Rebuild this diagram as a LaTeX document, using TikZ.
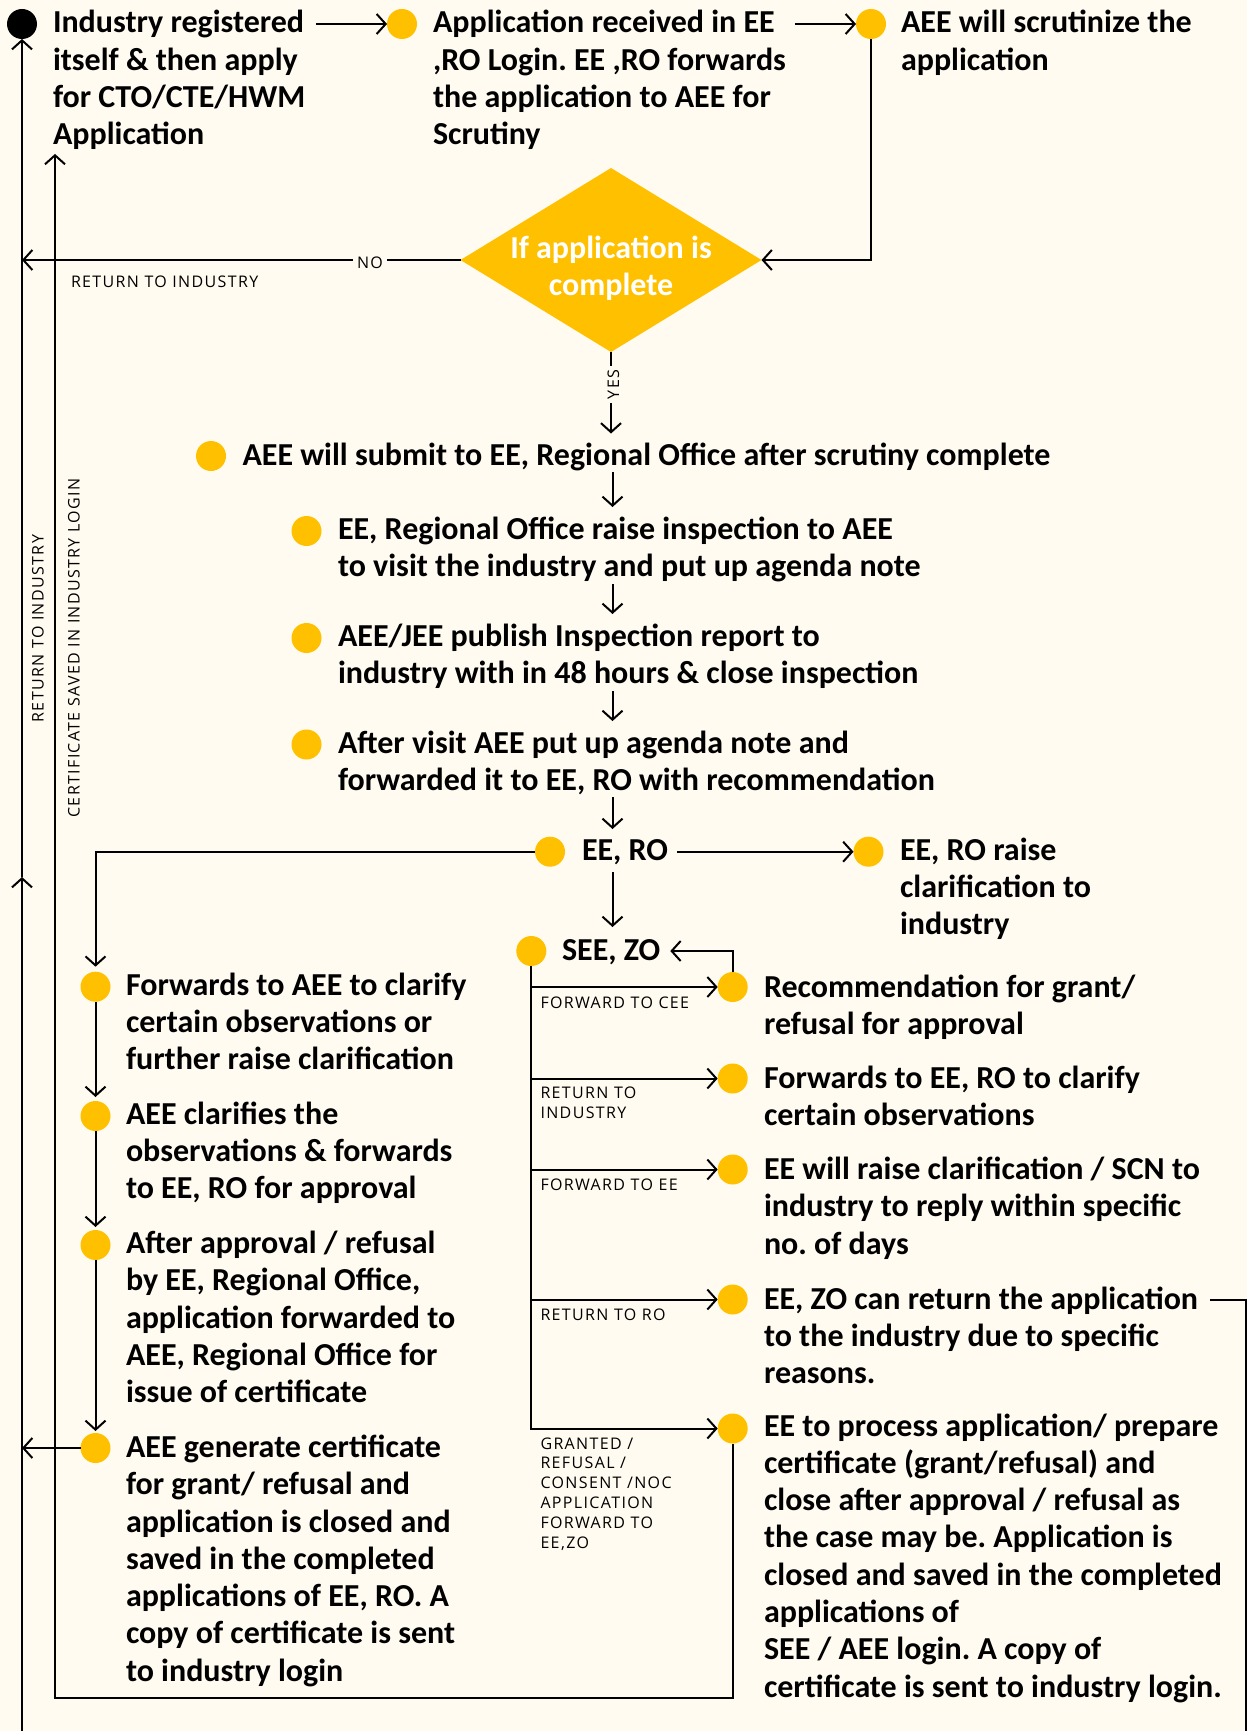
\documentclass[tikz,border=0pt]{standalone}
\usepackage{fontspec}
\setmainfont{Carlito}
\newfontfamily\lblfont[LetterSpace=8.5]{Open Sans}
\usetikzlibrary{arrows.meta,shapes.geometric}
\definecolor{paper}{HTML}{FFFBF1}
\definecolor{gold}{HTML}{FFC000}
\frenchspacing
\begin{document}
\begin{tikzpicture}[x=1pt,y=-1pt,
  every node/.style={inner sep=0pt, outer sep=0pt},
  % multi-line nodes are placed by the baseline of their last line
  txt/.style={anchor=base west, align=left, font=\fontsize{32}{37.3}\selectfont\bfseries},
  lbl/.style={anchor=base west, align=left, font=\fontsize{16}{19.8}\selectfont\lblfont},
  tag/.style={font=\fontsize{16}{19.8}\selectfont\lblfont, fill=paper, inner xsep=4pt, inner ysep=2pt},
  dot/.style={circle, fill=gold, minimum size=30pt},
  wire/.style={line width=2pt},
  arr/.style={wire, -{Straight Barb[length=9pt,width=20pt,line width=2pt]}},
  flow/.style={arr, shorten <=2pt, shorten >=10pt},
]
\useasboundingbox (0,0) rectangle (1247,1731);
\fill[paper] (0,0) rectangle (1247,1731);
\clip (0,0) rectangle (1247,1731);

% guide coordinates
\coordinate (outer) at (22,0);
\coordinate (inner) at (55,0);
\coordinate (axis) at (612.5,0);
\coordinate (bot) at (0,1698);
\coordinate (edge) at (1245.5,0);
\coordinate (below) at (0,1760);

% ---------- top row ----------
\node[dot, fill=black] (d0) at (22,24) {};
\node[txt] (t0) at (53,144.9) {Industry registered\\itself \& then apply\\for CTO/CTE/HWM\\Application};
\node[dot] (d1) at (402,24) {};
\node[txt] (t1) at (433,144.9) {Application received in EE\\,RO Login. EE ,RO forwards\\the application to AEE for\\Scrutiny};
\node[dot] (d2) at (871,24) {};
\node[txt] (t2) at (901,70.3) {AEE will scrutinize the\\application};

\draw[arr, shorten <=11pt] (t0.east |- d1) -- (d1.west);
\draw[arr, shorten <=9pt] (t1.east |- d2) -- (d2.west);

% ---------- decision ----------
\node[diamond, fill=gold, minimum width=301pt, minimum height=184pt] (dec) at (611,260) {};
\node[anchor=base, align=center, text=white, font=\fontsize{32}{37.3}\selectfont\bfseries] (dect) at (611,295.3) {If application is\\complete};
\draw[arr] (d2.south) |- (dec.east);

% return to industry (NO)
\draw[arr] (dec.west) -- (dec.west -| outer);
\node[tag] (no) at (370,263) {NO};
\node[lbl] (rti) at (71,287) {RETURN TO INDUSTRY};

% ---------- central chain ----------
\node[dot] (dS) at (211,456) {};
\node[txt] (tS) at (242.5,465) {AEE will submit to EE, Regional Office after scrutiny complete};
\node[dot] (dR) at (306.5,531) {};
\node[txt] (tR) at (338,576.8) {EE, Regional Office raise inspection to AEE\\to visit the industry and put up agenda note};
\node[dot] (dA) at (306.5,638) {};
\node[txt] (tA) at (338,683.8) {AEE/JEE publish Inspection report to\\industry with in 48 hours \& close inspection};
\node[dot] (dV) at (306.5,744.5) {};
\node[txt] (tV) at (338,790.8) {After visit AEE put up agenda note and\\forwarded it to EE, RO with recommendation};

\draw[arr, shorten >=9pt] (dec.south) -- (tS.north -| dec.south);
\node[tag, rotate=90] (yes) at (613.5,384.5) {YES};
\draw[flow] (tS.south -| axis) -- (tR.north -| axis);
\draw[flow] (tR.south -| axis) -- (tA.north -| axis);
\draw[flow] (tA.south -| axis) -- (tV.north -| axis);

% ---------- EE, RO ----------
\node[dot] (dE) at (550,851.7) {};
\node[txt] (tE) at (582,860) {EE, RO};
\node[dot] (dER) at (868.5,851.7) {};
\node[txt] (tER) at (900,934.6) {EE, RO raise\\clarification to\\industry};
\draw[flow] (tV.south -| axis) -- (tE.north -| axis);
\draw[arr, shorten <=9pt] (tE.east |- dE) -- (dER.west);

% ---------- SEE, ZO ----------
\node[dot] (dZ) at (531.3,951) {};
\node[txt] (tZ) at (562,960) {SEE, ZO};
\draw[arr, shorten <=8pt, shorten >=12pt] (tE.south -| axis) -- (tZ.north -| axis);

\node[dot] (r1) at (732.7,987) {};
\node[txt] (rt1) at (764,1034.3) {Recommendation for grant/\\refusal for approval};
\node[dot] (r2) at (732.7,1078.5) {};
\node[txt] (rt2) at (764,1125.8) {Forwards to EE, RO to clarify\\certain observations};
\node[dot] (r3) at (732.7,1169.5) {};
\node[txt] (rt3) at (764,1254.1) {EE will raise clarification / SCN to\\industry to reply within specific\\no. of days};
\node[dot] (r4) at (732.7,1299.5) {};
\node[txt] (rt4) at (764,1383.6) {EE, ZO can return the application\\to the industry due to specific\\reasons.};
\node[dot] (r5) at (732.7,1428.5) {};
\node[txt] (rt5) at (764,1697.1) {EE to process application/ prepare\\certificate (grant/refusal) and\\close after approval / refusal as\\the case may be. Application is\\closed and saved in the completed\\applications of\\SEE / AEE login. A copy of\\certificate is sent to industry login.};

\draw[arr] (dZ.south) |- (r5.west);
\draw[arr] (dZ |- r1) -- (r1.west);
\draw[arr] (dZ |- r2) -- (r2.west);
\draw[arr] (dZ |- r3) -- (r3.west);
\draw[arr] (dZ |- r4) -- (r4.west);
\draw[arr, shorten >=10pt] (r1.north) |- (dZ -| tZ.east);

\node[lbl] (b1) at (540.5,1008.3) {FORWARD TO CEE};
\node[lbl] (b2) at (540.5,1118.1) {RETURN TO\\INDUSTRY};
\node[lbl] (b3) at (540.5,1190) {FORWARD TO EE};
\node[lbl] (b4) at (540.5,1320.2) {RETURN TO RO};
\node[lbl] (b5) at (540.5,1548) {GRANTED /\\REFUSAL /\\CONSENT /NOC\\APPLICATION\\FORWARD TO\\EE,ZO};

% ---------- left column ----------
\node[dot] (c1) at (95.5,986.7) {};
\node[txt] (ct1) at (126,1069.6) {Forwards to AEE to clarify\\certain observations or\\further raise clarification};
\node[dot] (c2) at (95.5,1116) {};
\node[txt] (ct2) at (126,1198.6) {AEE clarifies the\\observations \& forwards\\to EE, RO for approval};
\node[dot] (c3) at (95.5,1245) {};
\node[txt] (ct3) at (126,1402.7) {After approval / refusal\\by EE, Regional Office,\\application forwarded to\\AEE, Regional Office for\\issue of certificate};
\node[dot] (c4) at (95.5,1448) {};
\node[txt] (ct4) at (126,1681.2) {AEE generate certificate\\for grant/ refusal and\\application is closed and\\saved in the completed\\applications of EE, RO. A\\copy of certificate is sent\\to industry login};

\draw[arr, shorten >=5pt] (dE.west) -| (c1.north);
\draw[arr, shorten >=4pt] (c1.south) -- (c2.north);
\draw[arr, shorten >=3pt] (c2.south) -- (c3.north);
\draw[arr, shorten >=2pt] (c3.south) -- (c4.north);
\draw[arr] (c4.west) -- (c4 -| outer);

% ---------- outer loops ----------
\coordinate (ezoend) at ([xshift=12pt]rt4.east);
\coordinate (loopmid) at (22,877);
\draw[arr] (ezoend |- r4) -- (edge |- r4) -- (edge |- below) -- (outer |- below) -- (loopmid);
\draw[arr] (loopmid) -- (d0.south);
\draw[arr, shorten >=4pt] (r5.south) -- (r5 |- bot) -- (inner |- bot) -- (inner |- t0.south);

\node[lbl, anchor=center, rotate=90] (rtiv) at (38,628.6) {RETURN TO INDUSTRY};
\node[lbl, anchor=center, rotate=90] (csv) at (74,648) {CERTIFICATE SAVED IN INDUSTRY LOGIN};
\end{tikzpicture}
\end{document}
